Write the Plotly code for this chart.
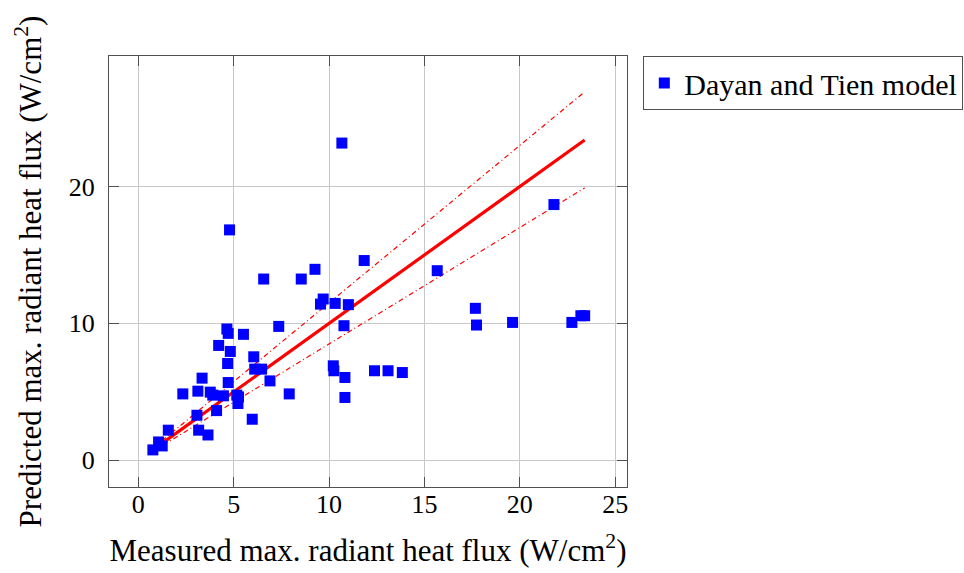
import plotly.graph_objects as go

# Measured max. radiant heat flux (W/cm^2)
measured = [10.67, 4.78, 11.84, 9.26, 6.57, 8.54, 15.67, 21.79, 9.69, 9.55,
            10.32, 11.01, 17.67, 17.73, 19.62, 22.73, 23.2, 23.4, 10.78, 7.36,
            4.64, 4.71, 5.51, 4.21, 4.82, 6.05, 4.68, 6.10, 6.46, 10.22,
            10.25, 10.83, 12.38, 13.09, 13.84, 6.90, 3.34, 4.71, 2.33, 3.12,
            3.77, 3.90, 4.46, 5.16, 5.25, 5.22, 7.91, 10.83, 4.10, 3.07,
            5.97, 1.57, 3.16, 3.65, 1.06, 1.25, 0.76]
# Predicted max. radiant heat flux (W/cm^2)
predicted = [23.17, 16.83, 14.59, 13.95, 13.24, 13.24, 13.85, 18.68, 11.78, 11.41,
             11.46, 11.37, 11.10, 9.88, 10.07, 10.07, 10.56, 10.56, 9.83, 9.78,
             9.59, 9.27, 9.20, 8.39, 7.95, 7.56, 7.07, 6.66, 6.66, 6.90,
             6.54, 6.05, 6.54, 6.54, 6.41, 5.80, 6.00, 5.68, 4.85, 5.05,
             4.98, 4.76, 4.71, 4.76, 4.63, 4.15, 4.85, 4.59, 3.63, 3.29,
             3.00, 2.20, 2.20, 1.85, 1.34, 1.05, 0.76]

# reference line slopes: perfect agreement and +/-15 %
slope_main = 1.0
slope_upper = 1.15
slope_lower = 0.85

x_ticks = [0, 5, 10, 15, 20, 25]
y_ticks = [0, 10, 20]

series_name = "Dayan and Tien model"
x_title = "Measured max. radiant heat flux (W/cm<sup>2</sup>)"
y_title = "Predicted max. radiant heat flux (W/cm<sup>2</sup>)"

FONT = "Liberation Serif"
RED = "#ff0000"

line_x = [min(measured), max(measured)]

fig = go.Figure()
fig.add_trace(go.Scatter(x=line_x, y=[v * slope_upper for v in line_x], mode="lines",
                         line=dict(color=RED, width=1.2, dash="5px,3px,1px,3px"),
                         showlegend=False, hoverinfo="skip"))
fig.add_trace(go.Scatter(x=line_x, y=[v * slope_lower for v in line_x], mode="lines",
                         line=dict(color=RED, width=1.2, dash="5px,3px,1px,3px"),
                         showlegend=False, hoverinfo="skip"))
fig.add_trace(go.Scatter(x=line_x, y=[v * slope_main for v in line_x], mode="lines",
                         line=dict(color=RED, width=3.2),
                         showlegend=False, hoverinfo="skip"))
fig.add_trace(go.Scatter(x=measured, y=predicted, mode="markers", name=series_name,
                         marker=dict(symbol="square", size=11, color="#0000ff",
                                     line=dict(width=0))))

axis_common = dict(
    showgrid=True, gridcolor="#c8c8c8", gridwidth=1,
    showline=True, linecolor="#505050", linewidth=1, mirror="allticks",
    ticks="inside", ticklen=10, tickcolor="#505050", tickwidth=1,
    zeroline=False,
    tickfont=dict(family=FONT, size=26, color="black"),
)

fig.update_layout(
    width=964, height=573,
    margin=dict(l=109, r=337, t=56, b=86, autoexpand=False),
    plot_bgcolor="white", paper_bgcolor="white",
    font=dict(family=FONT, color="black"),
    xaxis=dict(range=[-1.54, 25.62], tickvals=x_ticks,
               ticklabelstandoff=-6,
               title=dict(text=x_title, font=dict(family=FONT, size=31), standoff=21),
               **axis_common),
    yaxis=dict(range=[-1.95, 29.53], tickvals=y_ticks,
               title=dict(text=y_title, font=dict(family=FONT, size=31), standoff=17),
               ticklabelstandoff=8,
               **axis_common),
    legend=dict(x=1.0315, y=1.0, xanchor="left", yanchor="top",
                bordercolor="#505050", borderwidth=1, bgcolor="white",
                font=dict(family=FONT, size=30, color="black"),
                itemwidth=30, tracegroupgap=0),
)

fig.write_html("out.html")
